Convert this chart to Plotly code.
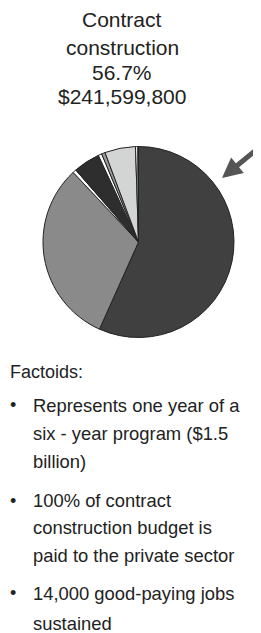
import plotly.graph_objects as go

# ---- data ----
slice_labels = ["Contract construction", "Segment B", "Segment C", "Segment D",
                "Segment E", "Segment F", "Segment G", "Segment H", "Segment I"]
slice_values = [56.7, 31.3, 0.6, 4.5, 0.6, 0.6, 5.2, 0.4, 0.1]
slice_colors = ["#404040", "#8a8a8a", "#ffffff", "#2e2e2e", "#ffffff",
                "#9a9a9a", "#d3d5d5", "#ffffff", "#6a6a6a"]

title_lines = ["Contract", "construction", "56.7%", "$241,599,800"]
factoid_header = "Factoids:"
factoids = [
    ["Represents one year of a", "six - year program ($1.5", "billion)"],
    ["100% of contract", "construction budget is", "paid to the private sector"],
    ["14,000 good-paying jobs", "sustained"],
]

# page body has an 8px margin; the figure fills the rest of the window
OFF = 8
W, H = 261 - OFF, 633 - OFF
FONT = "Liberation Sans, Arial, Helvetica, sans-serif"
TXT = "#222222"

def py(y):
    return 1 - (y - OFF) / H

def px(x):
    return (x - OFF) / W

fig = go.Figure()

cx, cy, r = 138.5, 242.0, 95.5
fig.add_trace(go.Pie(
    labels=slice_labels,
    values=slice_values,
    sort=False,
    direction="clockwise",
    rotation=0,
    textinfo="none",
    marker=dict(colors=slice_colors, line=dict(color="#222222", width=1)),
    domain=dict(x=[px(cx - r), px(cx + r)], y=[py(cy + r), py(cy - r)]),
    showlegend=False,
))

annotations = []
title_y = [20, 47, 73, 97]
for t, y in zip(title_lines, title_y):
    annotations.append(dict(text=t, x=px(122), y=py(y), xref="paper", yref="paper",
                            xanchor="center", yanchor="middle", showarrow=False,
                            font=dict(family=FONT, size=21, color=TXT)))

annotations.append(dict(text=factoid_header, x=px(8), y=py(372), xref="paper", yref="paper",
                        xanchor="left", yanchor="middle", showarrow=False,
                        font=dict(family=FONT, size=18, color=TXT)))

line_y = [[405, 433, 461], [501, 527, 555], [593, 623]]
for group, ys in zip(factoids, line_y):
    annotations.append(dict(text="•", x=px(8), y=py(ys[0]), xref="paper", yref="paper",
                            xanchor="left", yanchor="middle", showarrow=False,
                            font=dict(family=FONT, size=18, color=TXT)))
    for t, y in zip(group, ys):
        annotations.append(dict(text=t, x=px(30.5), y=py(y), xref="paper", yref="paper",
                                xanchor="left", yanchor="middle", showarrow=False,
                                font=dict(family=FONT, size=18.4, color=TXT)))

# arrow pointing at the contract construction slice
annotations.append(dict(text="", x=px(222), y=py(178), xref="paper", yref="paper",
                        ax=48, ay=-32, showarrow=True, arrowhead=2, arrowsize=0.8,
                        arrowwidth=5, arrowcolor="#555555"))

fig.update_layout(
    width=W, height=H,
    margin=dict(l=0, r=0, t=0, b=0),
    paper_bgcolor="white", plot_bgcolor="white",
    annotations=annotations,
    showlegend=False,
)

fig.write_html("out.html")
